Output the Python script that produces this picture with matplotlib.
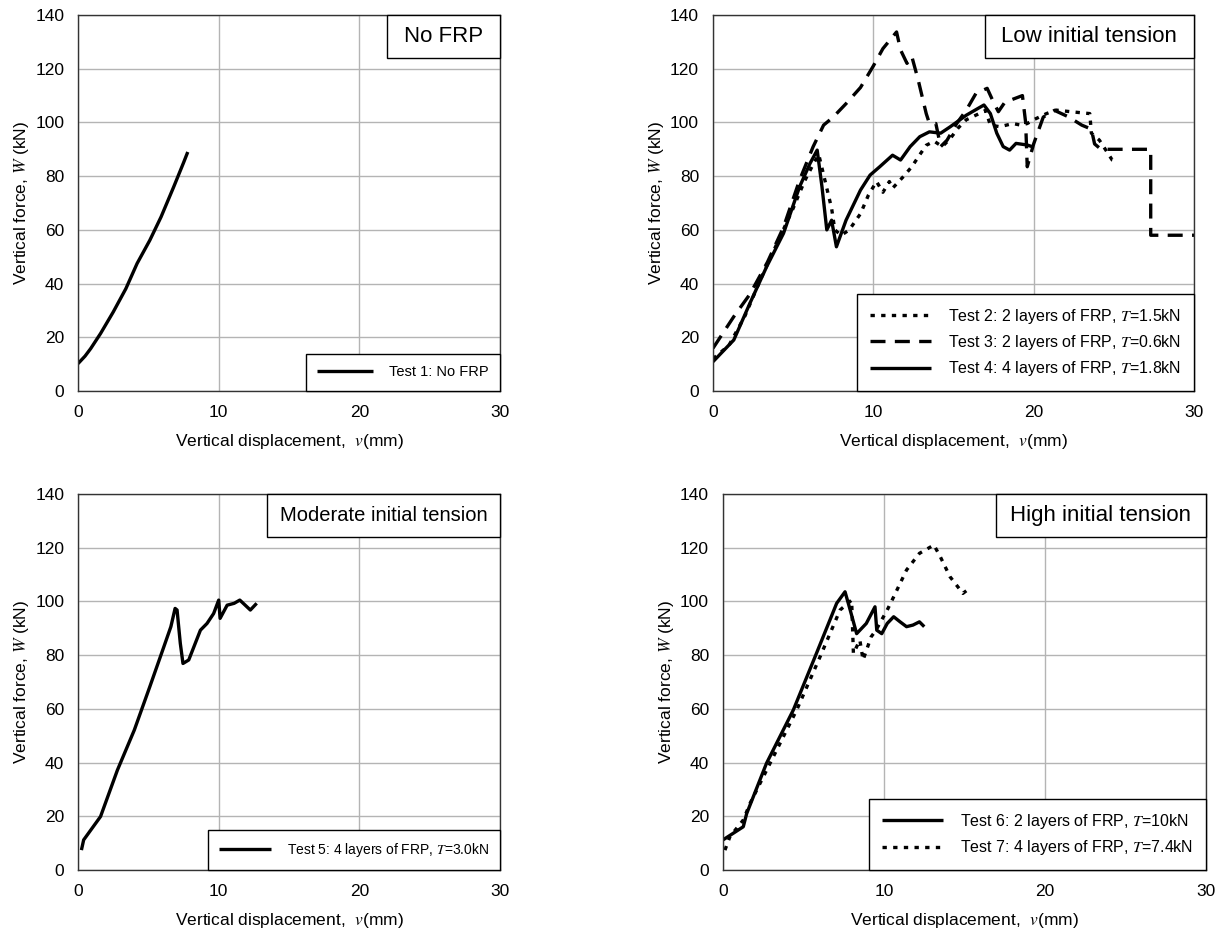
import matplotlib
matplotlib.use("Agg")
import matplotlib.pyplot as plt
from matplotlib.patches import Rectangle

plt.rcParams["font.family"] = ["Liberation Sans", "DejaVu Sans"]
plt.rcParams["mathtext.fontset"] = "stix"

# --- data (displacement mm, force kN) ---
t1_v = [0.0, 0.5, 0.9, 1.6, 2.5, 3.4, 4.2, 5.1, 5.9, 6.8, 7.5, 7.8]
t1_w = [10.2, 13.0, 15.8, 21.4, 29.4, 38.1, 47.5, 56.1, 64.8, 76.0, 85.0, 89.0]

t2_v = [0.0, 1.0, 2.0, 3.0, 4.0, 5.0, 5.7, 6.3, 6.6, 7.0, 7.4, 7.6, 8.0, 8.5, 9.2,
        9.7, 10.2, 10.6, 11.0, 11.2, 11.9, 12.4, 12.9, 13.3, 13.8, 14.3, 14.8,
        15.3, 15.8, 16.5, 17.0, 17.3, 17.9, 18.7, 19.2, 19.6, 20.0, 20.8, 21.4,
        22.3, 23.5, 23.6, 24.1, 24.9, 25.2]
t2_w = [12.0, 17.0, 28.0, 42.0, 55.0, 68.0, 78.0, 85.0, 88.0, 78.0, 68.0, 60.0,
        58.0, 60.0, 66.0, 73.0, 78.0, 74.0, 78.0, 75.5, 80.0, 83.5, 88.0, 91.5,
        93.0, 91.0, 94.0, 98.0, 101.0, 103.0, 104.5, 99.0, 98.4, 99.6, 99.0,
        99.6, 101.0, 103.3, 104.6, 104.0, 103.3, 96.0, 93.4, 86.0, 85.5]

t3_v = [0.0, 1.3, 2.3, 3.4, 4.4, 5.4, 6.25, 6.9, 7.5, 8.3, 9.2, 10.0, 10.6,
        11.45, 11.7, 12.1, 12.4, 12.8, 13.3, 13.5, 13.9, 14.2, 14.6, 15.2, 15.8,
        16.4, 17.1, 17.5, 17.8, 18.2, 19.3, 19.5, 19.6, 20.0, 20.6, 21.3, 22.2,
        23.0, 23.6, 23.8, 24.2, 27.3, 27.3, 30.0]
t3_w = [15.9, 27.7, 36.0, 48.0, 61.0, 78.5, 91.0, 99.0, 102.0, 107.0, 113.0,
        121.0, 127.5, 133.7, 127.0, 122.0, 124.6, 115.8, 103.3, 99.6, 99.6, 91.0,
        93.4, 99.6, 104.6, 110.8, 112.7, 107.5, 104.0, 107.5, 110.0, 100.0, 83.5,
        92.0, 102.0, 104.5, 102.0, 99.0, 97.5, 92.0, 90.0, 90.0, 58.0, 58.0]

t4_v = [0.0, 1.3, 2.3, 3.35, 4.4, 5.4, 6.05, 6.5, 6.8, 7.1, 7.4, 7.7, 8.3, 9.2,
        9.8, 10.4, 11.2, 11.7, 12.3, 12.9, 13.5, 14.2, 14.8, 15.8, 16.9, 17.3,
        17.7, 18.1, 18.5, 18.9, 19.6, 19.9]
t4_w = [10.9, 19.0, 32.6, 46.3, 58.7, 76.0, 84.7, 89.7, 76.0, 60.0, 63.6, 53.7,
        63.6, 74.8, 80.4, 83.5, 87.8, 86.0, 91.0, 94.7, 96.5, 96.0, 98.4, 102.7,
        106.5, 103.3, 96.0, 91.0, 89.7, 92.2, 91.6, 91.0]

t5_v = [0.24, 0.4, 1.6, 2.8, 4.0, 5.1, 6.1, 6.6, 6.9, 7.04, 7.27, 7.46, 7.87,
        8.7, 9.17, 9.64, 10.0, 10.1, 10.6, 11.1, 11.5, 12.25, 12.7]
t5_w = [7.4, 11.2, 19.9, 37.2, 52.1, 68.2, 83.1, 90.6, 97.4, 96.8, 84.4, 76.9,
        78.2, 89.3, 91.8, 95.5, 100.5, 93.7, 98.6, 99.3, 100.5, 96.8, 99.3]

t6_v = [0.0, 1.26, 1.47, 2.7, 4.37, 5.8, 7.06, 7.58, 7.9, 8.3, 8.9, 9.44, 9.55,
        9.86, 10.2, 10.6, 11.0, 11.4, 11.8, 12.2, 12.5]
t6_w = [11.2, 16.1, 21.0, 39.7, 59.6, 80.6, 99.3, 103.6, 96.8, 88.0, 91.8, 98.0,
        89.3, 88.0, 91.8, 94.3, 92.4, 90.6, 91.2, 92.4, 90.6]

t7_v = [0.12, 0.43, 1.26, 1.68, 2.92, 4.58, 6.03, 7.27, 7.99, 8.1, 8.5, 8.7,
        9.2, 9.5, 10.2, 10.6, 11.4, 12.2, 13.1, 13.5, 14.1, 14.9, 15.3]
t7_w = [7.4, 12.4, 18.6, 24.8, 39.7, 59.6, 79.4, 96.8, 100.5, 80.6, 85.6, 78.2,
        86.8, 89.3, 96.8, 101.7, 111.7, 117.9, 121.0, 116.6, 109.2, 103.0, 104.8]

panel_titles = ["No FRP", "Low initial tension",
                "Moderate initial tension", "High initial tension"]
x_ticks = [0, 10, 20, 30]
y_ticks = [0, 20, 40, 60, 80, 100, 120, 140]

DOT = (0, (1.3, 1.9))
DASH = (0, (4.5, 2.8))

fig = plt.figure(figsize=(12.25, 9.39), dpi=100)
rects = [
    [0.0637, 0.5836, 0.3445, 0.4004],
    [0.5820, 0.5836, 0.3927, 0.4004],
    [0.0637, 0.0735, 0.3445, 0.4004],
    [0.5902, 0.0735, 0.3943, 0.4004],
]
box_left = [0.732, 0.565, 0.448, 0.565]
axes = [fig.add_axes(r) for r in rects]

series = [
    [(t1_v, t1_w, "-", "Test 1: No FRP")],
    [(t2_v, t2_w, DOT, "Test 2: 2 layers of FRP, $T$=1.5kN"),
     (t3_v, t3_w, DASH, "Test 3: 2 layers of FRP, $T$=0.6kN"),
     (t4_v, t4_w, "-", "Test 4: 4 layers of FRP, $T$=1.8kN")],
    [(t5_v, t5_w, "-", "Test 5: 4 layers of FRP, $T$=3.0kN")],
    [(t6_v, t6_w, "-", "Test 6: 2 layers of FRP, $T$=10kN"),
     (t7_v, t7_w, DOT, "Test 7: 4 layers of FRP, $T$=7.4kN")],
]
legend_size = [10.5, 11.5, 10, 11.5]
title_size = [16, 16, 14.5, 16]

for i, ax in enumerate(axes):
    for v, w, ls, lab in series[i]:
        ax.plot(v, w, color="black", lw=2.4, linestyle=ls, label=lab,
                solid_capstyle="butt", dash_capstyle="butt")
    ax.set_xlim(0, 30)
    ax.set_ylim(0, 140)
    ax.set_xticks(x_ticks)
    ax.set_yticks(y_ticks)
    ax.grid(True, color="#b4b4b4", lw=1.0)
    ax.set_axisbelow(True)
    ax.tick_params(axis="both", length=0, labelsize=12.5)
    ax.tick_params(axis="y", pad=10)
    ax.tick_params(axis="x", pad=10)
    for sp in ax.spines.values():
        sp.set_color("#333333")
        sp.set_linewidth(1.0)
    ax.set_xlabel("Vertical displacement,  $v$(mm)", fontsize=12.5, labelpad=9)
    ax.set_ylabel("Vertical force, $W$ (kN)", fontsize=12.5, labelpad=3)

    leg = ax.legend(loc="lower right", borderaxespad=0, fancybox=False,
                    edgecolor="black", framealpha=1, fontsize=legend_size[i],
                    handlelength=3.8, handletextpad=1.1, borderpad=0.8,
                    labelspacing=0.45)
    leg.get_frame().set_linewidth(1.0)
    leg.set_zorder(5)

    bl = box_left[i]
    ax.add_patch(Rectangle((bl, 0.886), 1 - bl, 0.114, transform=ax.transAxes,
                           facecolor="white", edgecolor="black", lw=1.0,
                           zorder=6, clip_on=False))
    ax.text((bl + 1) / 2, 0.943, panel_titles[i], transform=ax.transAxes,
            ha="center", va="center", fontsize=title_size[i], zorder=7)

fig.savefig("out.png", dpi=100)
